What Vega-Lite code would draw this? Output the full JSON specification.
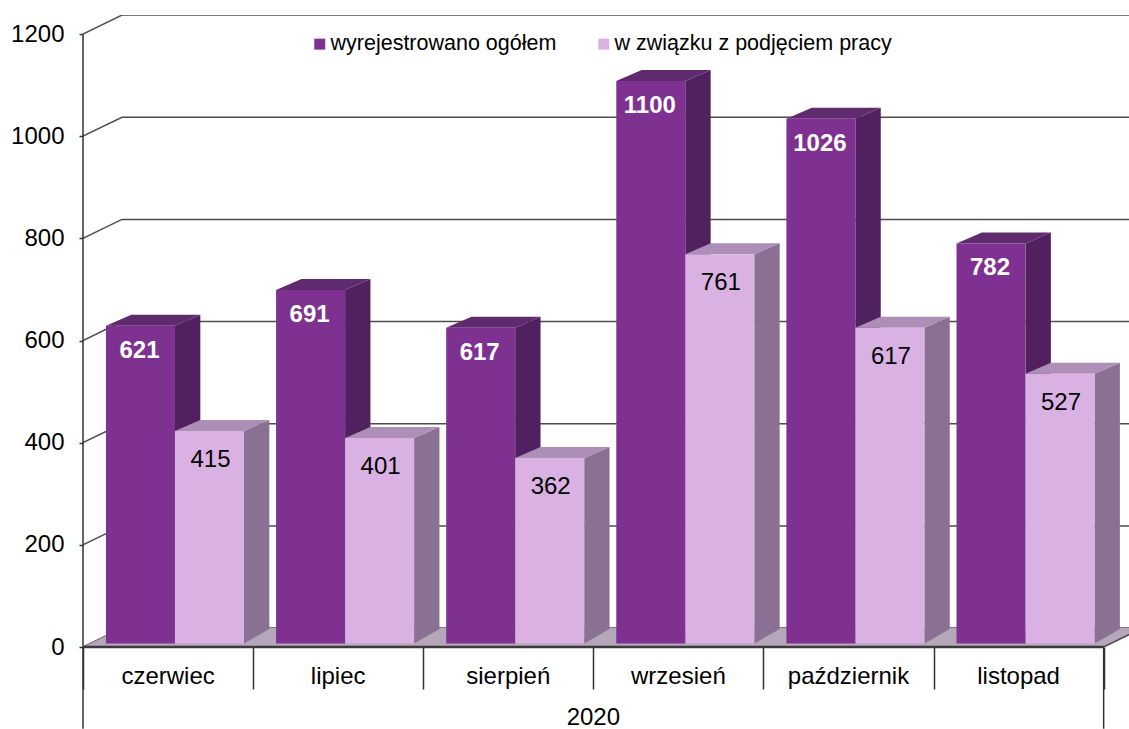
{"$schema":"https://vega.github.io/schema/vega-lite/v6.json","width":1046,"height":632,"autosize":{"type":"none"},"padding":{"left":83,"top":15,"right":0,"bottom":82},"background":"white","config":{"view":{"stroke":null},"font":"Liberation Sans","text":{"font":"Liberation Sans"}},"data":{"values":[{"month":"czerwiec","series":"wyrejestrowano ogółem","value":621},{"month":"czerwiec","series":"w związku z podjęciem pracy","value":415},{"month":"lipiec","series":"wyrejestrowano ogółem","value":691},{"month":"lipiec","series":"w związku z podjęciem pracy","value":401},{"month":"sierpień","series":"wyrejestrowano ogółem","value":617},{"month":"sierpień","series":"w związku z podjęciem pracy","value":362},{"month":"wrzesień","series":"wyrejestrowano ogółem","value":1100},{"month":"wrzesień","series":"w związku z podjęciem pracy","value":761},{"month":"październik","series":"wyrejestrowano ogółem","value":1026},{"month":"październik","series":"w związku z podjęciem pracy","value":617},{"month":"listopad","series":"wyrejestrowano ogółem","value":782},{"month":"listopad","series":"w związku z podjęciem pracy","value":527}]},"transform":[{"calculate":"indexof(['czerwiec','lipiec','sierpień','wrzesień','październik','listopad'],datum.month)","as":"i"},{"calculate":"datum.series==='wyrejestrowano ogółem'?0:1","as":"s"},{"calculate":"datum.i+0.135+datum.s*0.4057","as":"x0"},{"calculate":"datum.x0+0.4057","as":"x1"},{"calculate":"datum.x0+0.2028","as":"xc"},{"calculate":"datum.value+8","as":"top"},{"calculate":"7","as":"base"},{"calculate":"[0,1]","as":"p"},{"flatten":["p"]},{"calculate":"datum.x1+datum.p*0.149","as":"xs"},{"calculate":"datum.x0+datum.p*0.149","as":"xt0"},{"calculate":"datum.base+datum.p*28","as":"ys"},{"calculate":"datum.top+datum.p*21.5","as":"ytop"}],"layer":[
{"data":{"values":[{"tick":0},{"tick":200},{"tick":400},{"tick":600},{"tick":800},{"tick":1000},{"tick":1200}]},"transform":[{"calculate":"[0,1,2]","as":"pt"},{"flatten":["pt"]},{"calculate":"datum.pt===0?0:(datum.pt===1?0.229:6.5)","as":"gx"},{"calculate":"datum.tick+(datum.pt===0?0:37)","as":"gy"}],"mark":{"type":"line","stroke":"#4d4d4d","strokeWidth":1.5,"clip":true},"encoding":{"x":{"field":"gx","type":"quantitative","scale":{"domain":[0,6.149],"nice":false,"zero":false},"axis":{"values":[0,1,2,3,4,5,6],"title":null,"labels":false,"domain":false,"grid":false,"tickSize":42,"tickColor":"#333333","tickWidth":1.5}},"y":{"field":"gy","type":"quantitative","scale":{"domain":[0,1237.2],"nice":false,"zero":false},"axis":{"values":[0,200,400,600,800,1000,1200],"format":"d","title":null,"domain":false,"grid":false,"tickSize":4,"tickColor":"#333333","tickWidth":1.5,"labelFont":"Liberation Sans","labelFontSize":24,"labelColor":"#000000","labelPadding":15}},"detail":{"field":"tick"},"order":{"field":"pt"}}},
{"data":{"values":[{"plane":"floor","p":0},{"plane":"floor","p":1}]},"transform":[{"calculate":"datum.p*0.229","as":"fx0"},{"calculate":"6+datum.p*0.229","as":"fx1"},{"calculate":"datum.p*37","as":"fy"}],"mark":{"type":"area","orient":"horizontal","fill":"#b5a6b9","clip":true},"encoding":{"y":{"field":"fy","type":"quantitative"},"x":{"field":"fx0","type":"quantitative"},"x2":{"field":"fx1"}}},
{"data":{"values":[{"plane":"floor","p":0},{"plane":"floor","p":1}]},"transform":[{"calculate":"6+datum.p*0.229","as":"fx1"},{"calculate":"datum.p*37","as":"fy"}],"mark":{"type":"line","stroke":"#4d4d4d","strokeWidth":1.5,"clip":true},"encoding":{"y":{"field":"fy","type":"quantitative"},"x":{"field":"fx1","type":"quantitative"}}},
{"transform":[{"filter":"datum.s===0"}],"mark":{"type":"area","orient":"vertical","fill":"#50215e"},"encoding":{"x":{"field":"xs","type":"quantitative"},"y":{"field":"ys","type":"quantitative"},"y2":{"field":"ytop"},"detail":{"field":"month"}}},
{"transform":[{"filter":"datum.s===0"}],"mark":{"type":"area","orient":"horizontal","fill":"#5f2a6e"},"encoding":{"y":{"field":"ytop","type":"quantitative"},"x":{"field":"xt0","type":"quantitative"},"x2":{"field":"xs"},"detail":{"field":"month"}}},
{"transform":[{"filter":"datum.s===1"}],"mark":{"type":"area","orient":"vertical","fill":"#8a7092"},"encoding":{"x":{"field":"xs","type":"quantitative"},"y":{"field":"ys","type":"quantitative"},"y2":{"field":"ytop"},"detail":{"field":"month"}}},
{"transform":[{"filter":"datum.s===1"}],"mark":{"type":"area","orient":"horizontal","fill":"#ad8eb6"},"encoding":{"y":{"field":"ytop","type":"quantitative"},"x":{"field":"xt0","type":"quantitative"},"x2":{"field":"xs"},"detail":{"field":"month"}}},
{"transform":[{"filter":"datum.p===0"}],"mark":{"type":"rect"},"encoding":{"x":{"field":"x0","type":"quantitative"},"x2":{"field":"x1"},"y":{"field":"top","type":"quantitative"},"y2":{"field":"base"},"color":{"field":"series","type":"nominal","scale":{"domain":["wyrejestrowano ogółem","w związku z podjęciem pracy"],"range":["#7e3191","#d9b2e3"]},"legend":{"title":null,"orient":"none","legendX":226,"legendY":18,"direction":"horizontal","columns":2,"columnPadding":36,"symbolType":"square","symbolSize":120,"symbolStrokeWidth":0,"symbolOpacity":1,"labelFont":"Liberation Sans","labelFontSize":21.5,"labelColor":"#000000","labelOffset":0,"labelLimit":400}}}},
{"transform":[{"filter":"datum.p===0 && datum.s===0"}],"mark":{"type":"text","font":"Liberation Sans","fontSize":24,"fontWeight":"bold","fill":"#ffffff","dy":25,"dx":-1,"align":"center","baseline":"middle"},"encoding":{"x":{"field":"xc","type":"quantitative"},"y":{"field":"top","type":"quantitative"},"text":{"field":"value","type":"quantitative"}}},
{"transform":[{"filter":"datum.p===0 && datum.s===1"}],"mark":{"type":"text","font":"Liberation Sans","fontSize":24,"fill":"#000000","dy":29,"dx":1,"align":"center","baseline":"middle"},"encoding":{"x":{"field":"xc","type":"quantitative"},"y":{"field":"top","type":"quantitative"},"text":{"field":"value","type":"quantitative"}}},
{"data":{"values":[{"edge":0,"from":-160,"to":1200},{"edge":6,"from":-160,"to":0}]},"mark":{"type":"rule","stroke":"#333333","strokeWidth":1.5},"encoding":{"x":{"field":"edge","type":"quantitative"},"y":{"field":"from","type":"quantitative"},"y2":{"field":"to"}}},
{"data":{"values":[{"a":0,"b":6,"lvl":0}]},"mark":{"type":"rule","stroke":"#3a3a3a","strokeWidth":2.5},"encoding":{"x":{"field":"a","type":"quantitative"},"x2":{"field":"b"},"y":{"field":"lvl","type":"quantitative"}}},
{"data":{"values":[{"month":"czerwiec","pos":0.5,"lvl":0},{"month":"lipiec","pos":1.5,"lvl":0},{"month":"sierpień","pos":2.5,"lvl":0},{"month":"wrzesień","pos":3.5,"lvl":0},{"month":"październik","pos":4.5,"lvl":0},{"month":"listopad","pos":5.5,"lvl":0}]},"mark":{"type":"text","font":"Liberation Sans","fontSize":24,"fill":"#000000","dy":30,"baseline":"middle","align":"center"},"encoding":{"x":{"field":"pos","type":"quantitative"},"y":{"field":"lvl","type":"quantitative"},"text":{"field":"month"}}},
{"data":{"values":[{"year":"2020","pos":3,"lvl":0}]},"mark":{"type":"text","font":"Liberation Sans","fontSize":24,"fill":"#000000","dy":71,"baseline":"middle","align":"center"},"encoding":{"x":{"field":"pos","type":"quantitative"},"y":{"field":"lvl","type":"quantitative"},"text":{"field":"year"}}}
]}
